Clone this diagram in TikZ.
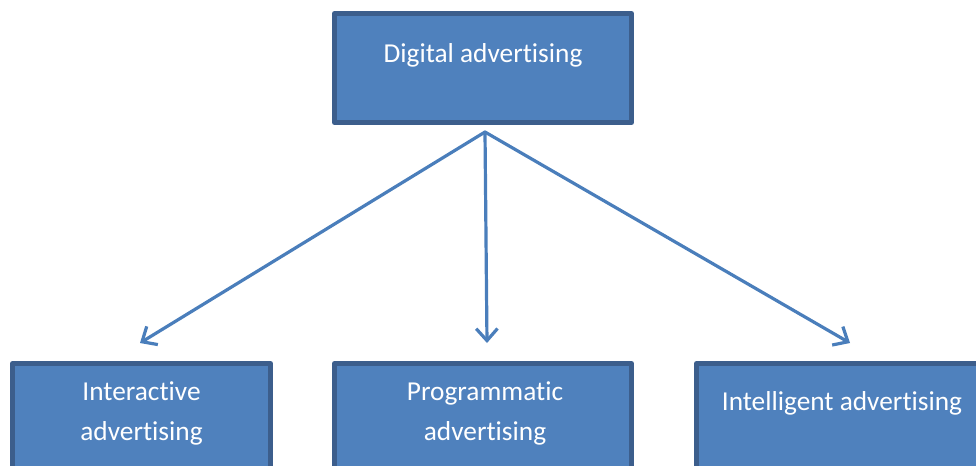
\documentclass[tikz,border=0pt]{standalone}
\usepackage{fontspec}
\setmainfont{Carlito}[RawFeature={-liga}]
\usetikzlibrary{arrows.meta}
\definecolor{boxfill}{HTML}{4F81BD}
\definecolor{boxline}{HTML}{3C5E8C}
\definecolor{arrowline}{HTML}{4A7EBB}
\tikzset{
  adbox/.style={draw=boxline,fill=boxfill,line width=3.75pt,minimum height=81.75pt,inner sep=0pt},
  adtext/.style={text=white,font=\fontsize{20.5}{30}\selectfont,align=center,inner sep=0pt},
  adarrow/.style={draw=arrowline,line width=2.4pt,-{Straight Barb[length=9pt,width=16pt]}}
}
\begin{document}
\begin{tikzpicture}[line cap=round,line join=round,x=0.75pt,y=-0.75pt]
		\useasboundingbox (0,0) rectangle (976,465);
		\clip (0,0) rectangle (976,465);
		\node[adbox,minimum width=222.75pt] (digital) at (483,68) {};
		\node[adbox,minimum width=193.5pt] (interactive) at (141.5,418) {};
		\node[adbox,minimum width=222.75pt] (programmatic) at (483,418) {};
		\node[adbox,minimum width=222.75pt] (intelligent) at (845,418) {};
		\node[adtext] (digitaltext) at (483,55) {Digital advertising};
		\node[adtext] (interactivetext) at (141.5,413) {Interactive\\advertising};
		\node[adtext] (programmatictext) at (485,413) {Programmatic\\advertising};
		\node[adtext] (intelligenttext) at (842,403) {Intelligent advertising};
		\coordinate (fork) at (485,132);
		\coordinate (interactivetip) at (140,343);
		\coordinate (programmatictip) at (487,343);
		\coordinate (intelligenttip) at (850,343);
		\draw[adarrow] (fork) -- (interactivetip);
		\draw[adarrow] (fork) -- (programmatictip);
		\draw[adarrow] (fork) -- (intelligenttip);
\end{tikzpicture}
\end{document}
